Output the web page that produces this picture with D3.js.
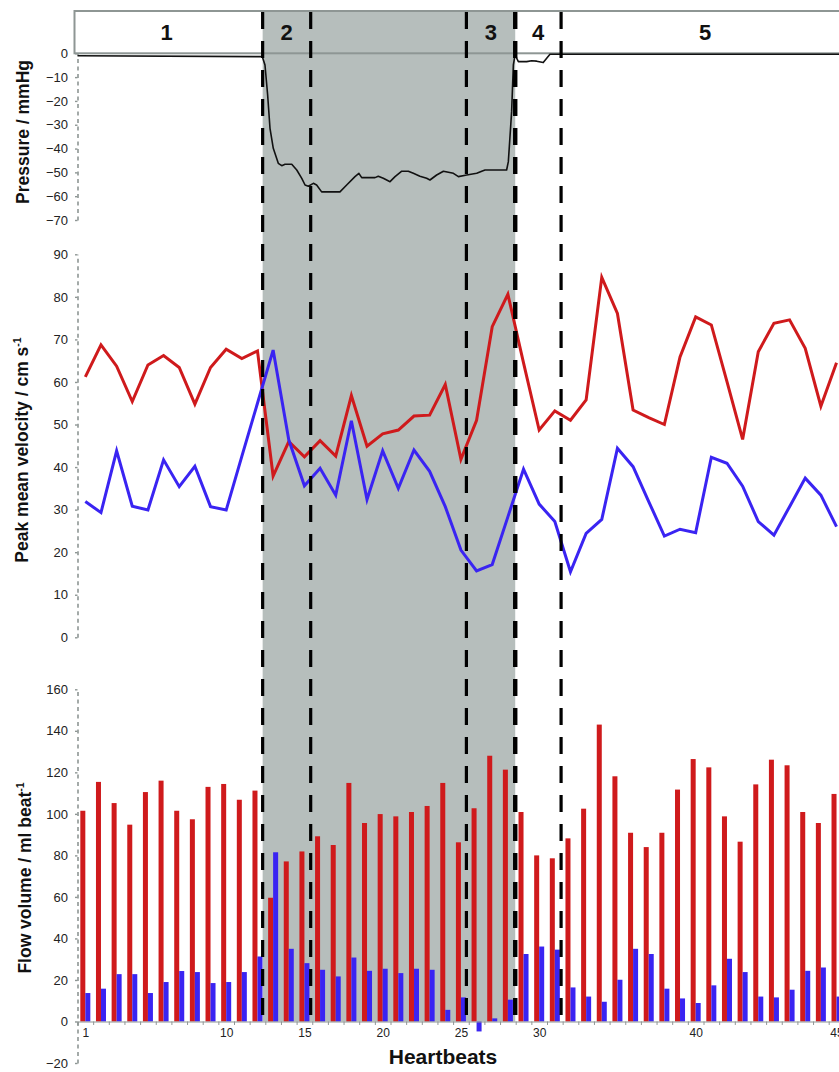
<!DOCTYPE html>
<html lang="en">
<head>
<meta charset="UTF-8">
<title>Pressure, velocity and flow volume by heartbeat</title>
<script src="https://d3js.org/d3.v7.min.js"></script>
<style>
  body { margin: 0; background: #fff; font-family: Arial, "Liberation Sans", sans-serif; }
  svg { display: block; }
  .ylab { font-size: 13px; fill: #222; }
  .title { font-weight: bold; fill: #111; }
</style>
</head>
<body>
<div id="chart"></div>
<script>
// heartbeat numbers
const beats = d3.range(1, 50);

// peak mean velocity (cm/s), red and blue series
const velRed = [61.2, 68.7, 63.7, 55.4, 64, 66.2, 63.4, 54.8, 63.4, 67.7,
  65.5, 67.3, 37.9, 46, 42.4, 46.2, 42.6, 56.8, 44.9, 47.8,
  48.7, 52, 52.2, 59.4, 41.8, 51, 73, 80.6, 64.5, 48.7,
  53.2, 51, 55.8, 84.6, 76.1, 53.4, 51.6, 50, 65.9, 75.3,
  73.4, 60.1, 46.5, 67.1, 73.8, 74.6, 67.9, 54.3, 64.5];
const velBlue = [31.9, 29.3, 43.8, 30.8, 29.9, 41.7, 35.4, 40.2, 30.7, 29.9,
  42.5, 55, 67.5, 46.4, 35.6, 39.7, 33.4, 50.9, 32.4, 43.8,
  35, 44, 39, 30.7, 20.5, 15.6, 17.1, 28.3, 39.5, 31.3,
  27.2, 15.4, 24.4, 27.7, 44.4, 40.1, 31.9, 23.8, 25.4, 24.6,
  42.3, 40.9, 35.5, 27.2, 24, 30.7, 37.4, 33.4, 26];

// flow volume (ml/beat)
const volRed = [101.5, 115.4, 105.2, 94.8, 110.5, 116, 101.5, 97.4, 113, 114.4,
  106.8, 111.2, 59.6, 77.1, 81.9, 89.2, 85, 114.9, 95.6, 99.9,
  98.8, 100.9, 103.8, 114.9, 86.3, 102.7, 128, 121.3, 100.9, 80,
  78.6, 88.2, 102.5, 143, 118.1, 90.9, 84, 90.9, 111.7, 126.4,
  122.4, 98.8, 86.6, 114.2, 126.1, 123.4, 100.9, 95.6, 109.6];
const volBlue = [13.7, 15.8, 22.8, 22.8, 13.7, 19, 24.3, 23.8, 18.5, 19,
  23.8, 31.3, 81.5, 35, 28.1, 24.9, 21.7, 30.8, 24.4, 25.4,
  23.3, 25.4, 24.9, 5.6, 11.6, -4.8, 1.5, 10.5, 32.5, 36.1,
  34.6, 16.4, 12, 9.5, 20.1, 35, 32.5, 15.8, 11.1, 8.9,
  17.4, 30.2, 23.8, 12, 11.6, 15.3, 24.4, 26, 12];

// pressure trace: position in heartbeats and pressure (mmHg)
const pressureAt = [0.5, 12.31, 12.48, 12.65, 12.8, 13.01, 13.33, 13.55, 13.76, 14.19,
  14.51, 14.83, 15.04, 15.25, 15.57, 15.78, 16.1, 17.27, 17.7, 18.23,
  18.48, 18.66, 19.51, 19.72, 20.04, 20.47, 20.79, 21.22, 21.64, 21.96,
  22.38, 22.81, 23.02, 23.45, 23.88, 24.52, 24.84, 25.37, 26.01, 26.33,
  26.54, 27.92, 28.03, 28.24, 28.35, 28.46, 28.67, 29.2, 29.52, 29.84,
  30.26, 30.48, 30.69, 50];
const pressure = [-1, -1.4, -4.9, -17.5, -31.5, -39.9, -46.2, -47.2, -46.6, -46.6,
  -49, -52.5, -55.3, -55.8, -54.6, -55.3, -58.2, -58.2, -55.3, -51.8,
  -50.4, -52.2, -52.2, -51.6, -52.5, -53.9, -51.8, -49.5, -49.5, -50.4,
  -51.6, -52.5, -53.2, -51.1, -49.5, -50.4, -51.8, -51.1, -50.4, -49.5,
  -49, -49, -45.5, -24.5, -4.9, -0.7, -3.5, -3.5, -3.1, -3.3,
  -3.9, -2.1, -0.4, -0.4];

// phases (heartbeat positions)
const phaseBounds = [12.33, 15.4, 25.35, 28.47, 31.4];
const shadedPhase = [12.33, 28.47];
const phaseNames = ["1", "2", "3", "4", "5"];
const phaseCentres = [6.2, 13.87, 26.91, 29.93, 40.6];

// axis ticks
const xTickBeats = [1, 10, 15, 20, 25, 30, 40, 49];
const xTickNames = ["1", "10", "15", "20", "25", "30", "40", "45"];
const pressureTicks = [0, -10, -20, -30, -40, -50, -60, -70];
const velocityTicks = [0, 10, 20, 30, 40, 50, 60, 70, 80, 90];
const volumeTicks = [-20, 0, 20, 40, 60, 80, 100, 120, 140, 160];

const W = 839, H = 1072;
const left = 77.5, step = 15.65;
const red = "#cf1a1c", blue = "#3a24f2", shade = "#b6bebc", axisGrey = "#8e9694";

const svg = d3.select("#chart").append("svg")
  .attr("width", W).attr("height", H)
  .style("font-family", "Arial, 'Liberation Sans', sans-serif");

const x = d3.scaleLinear().domain([0.5, 50.5]).range([left, left + 50 * step]);
const xb = d3.scaleBand().domain(d3.range(1, 51)).range([left, left + 50 * step])
  .paddingInner(0.36).paddingOuter(0.18);
const xs = d3.scaleBand().domain(["red", "blue"]).range([0, xb.bandwidth()]);

const yP = d3.scaleLinear().domain([-70, 0]).range([220, 53.3]);
const yV = d3.scaleLinear().domain([0, 90]).range([637.3, 254.3]);
const yQ = d3.scaleLinear().domain([-20, 160]).range([1063, 689.3]);

const headTop = 11, headBottom = yP(0), plotBottom = yQ(0);

// header band (white)
svg.append("rect").attr("x", 74.5).attr("y", headTop)
  .attr("width", W).attr("height", headBottom - headTop).attr("fill", "#fff");

// shaded phase
svg.append("rect")
  .attr("x", x(shadedPhase[0])).attr("y", headTop)
  .attr("width", x(shadedPhase[1]) - x(shadedPhase[0]))
  .attr("height", plotBottom - headTop)
  .attr("fill", shade);

// header frame
svg.append("rect").attr("x", 74.5).attr("y", headTop)
  .attr("width", W).attr("height", headBottom - headTop)
  .attr("fill", "none").attr("stroke", axisGrey).attr("stroke-width", 2);

svg.selectAll(".phase-name").data(phaseNames).join("text")
  .attr("class", "title")
  .attr("x", (d, i) => x(phaseCentres[i]))
  .attr("y", 32).attr("dy", "0.36em")
  .attr("text-anchor", "middle")
  .attr("font-size", 22)
  .text(d => d);

// y axes
function yAxis(scale, ticks) {
  const g = svg.append("g").attr("transform", `translate(${left},0)`)
    .call(d3.axisLeft(scale).tickValues(ticks).tickSize(2.5).tickSizeOuter(0).tickPadding(7));
  g.select(".domain").attr("stroke", axisGrey).attr("stroke-width", 1.6)
    .attr("stroke-dasharray", "4,3.5");
  g.selectAll(".tick line").attr("stroke", axisGrey).attr("stroke-width", 1.4);
  g.selectAll(".tick text").attr("class", "ylab")
    .attr("font-family", null).attr("font-size", null).attr("fill", null);
  g.attr("font-family", null).attr("font-size", null);
  return g;
}
yAxis(yP, pressureTicks);
yAxis(yV, velocityTicks);
yAxis(yQ, volumeTicks);

// axis titles
function yTitle(cx, cy, main, sup) {
  const t = svg.append("text").attr("class", "title")
    .attr("transform", `translate(${cx},${cy}) rotate(-90)`)
    .attr("text-anchor", "middle").attr("dy", "0.36em")
    .attr("font-size", 17.5);
  t.append("tspan").text(main);
  if (sup) t.append("tspan").attr("dy", -7).attr("font-size", 10.5).text(sup);
}
yTitle(23, 132, "Pressure / mmHg");
yTitle(22, 450, "Peak mean velocity / cm s", "-1");
yTitle(25, 878, "Flow volume / ml beat", "-1");

svg.append("text").attr("class", "title")
  .attr("x", 443).attr("y", 1056).attr("dy", "0.36em")
  .attr("text-anchor", "middle").attr("font-size", 21)
  .text("Heartbeats");

// pressure trace
svg.append("path")
  .datum(pressureAt.map((b, i) => [b, pressure[i]]))
  .attr("fill", "none").attr("stroke", "#111").attr("stroke-width", 1.6)
  .attr("stroke-linejoin", "round")
  .attr("d", d3.line().x(d => x(d[0])).y(d => yP(d[1])));

// velocity lines
const vLine = d3.line().x(d => x(d[0])).y(d => yV(d[1]));
[[velRed, red], [velBlue, blue]].forEach(([vals, col]) => {
  svg.append("path")
    .datum(beats.map((b, i) => [b, vals[i]]))
    .attr("fill", "none").attr("stroke", col).attr("stroke-width", 3)
    .attr("stroke-linejoin", "miter")
    .attr("d", vLine);
});

// flow volume bars
const bars = svg.append("g");
[["red", volRed, red], ["blue", volBlue, blue]].forEach(([key, vals, col]) => {
  bars.selectAll(null).data(beats).join("rect")
    .attr("x", b => xb(b) + xs(key))
    .attr("width", xs.bandwidth())
    .attr("y", (b, i) => yQ(Math.max(0, vals[i])))
    .attr("height", (b, i) => Math.abs(yQ(vals[i]) - yQ(0)))
    .attr("fill", col);
});

// x axis
const xAxisG = svg.append("g").attr("transform", `translate(0,${plotBottom})`)
  .call(d3.axisBottom(x).tickValues(d3.range(0.5, 50.5, 1)).tickSize(3.5).tickFormat(""));
xAxisG.select(".domain").attr("stroke", axisGrey).attr("stroke-width", 1.2);
xAxisG.selectAll(".tick line").attr("stroke", axisGrey);

const xLabG = svg.append("g").attr("transform", `translate(0,${plotBottom})`)
  .call(d3.axisBottom(x).tickValues(xTickBeats).tickSize(0).tickPadding(7)
    .tickFormat((d, i) => xTickNames[i]));
xLabG.select(".domain").remove();
xLabG.selectAll("text").attr("font-size", 12).attr("fill", "#222")
  .attr("font-family", "Arial, 'Liberation Sans', sans-serif");

// phase boundaries
svg.selectAll(".phase-line").data(phaseBounds).join("line")
  .attr("x1", d => x(d)).attr("x2", d => x(d))
  .attr("y1", headTop + 1).attr("y2", plotBottom)
  .attr("stroke", "#000")
  .attr("stroke-width", (d, i) => i === 3 ? 4.4 : 3.2)
  .attr("stroke-dasharray", "17,12");
</script>
</body>
</html>
